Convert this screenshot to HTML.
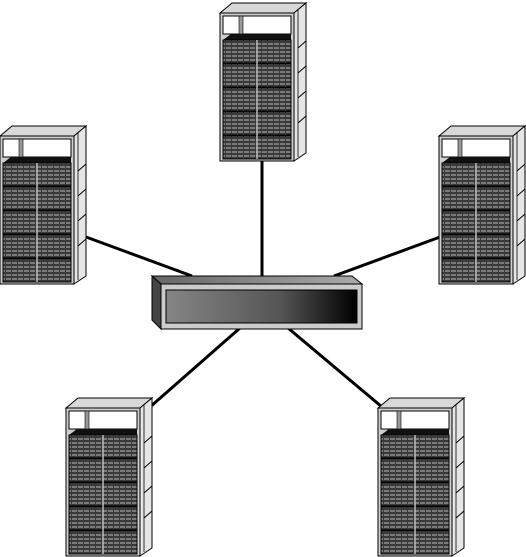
<!DOCTYPE html>
<html><head><style>html,body{margin:0;padding:0;background:#fff;width:526px;height:557px;overflow:hidden}</style></head>
<body>
<svg width="526" height="557" viewBox="0 0 526 557" xmlns="http://www.w3.org/2000/svg">
<defs>
<pattern id="drv" width="6" height="4" patternUnits="userSpaceOnUse">
<rect width="6" height="4" fill="#3a3a3a"/>
<rect x="0" y="0" width="5" height="2" fill="#7a7a7a"/>
</pattern>
<linearGradient id="sw" x1="0" x2="1" y1="0" y2="0">
<stop offset="0" stop-color="#858585"/><stop offset="0.6" stop-color="#555"/><stop offset="1" stop-color="#000"/>
</linearGradient>
<linearGradient id="swtop" x1="0" x2="1"><stop offset="0" stop-color="#666"/><stop offset="1" stop-color="#aaa"/></linearGradient>
<g id="srv">
<polygon points="0,10 12,0 86,0 74,10" fill="#d8d8d8" stroke="#000" stroke-width="1"/>
<polygon points="74,10 86,0 86,150 74,158" fill="#e6e6e6" stroke="#000" stroke-width="1"/>
<polyline points="78,7 78,154" fill="none" stroke="#000" stroke-width="0.8"/>
<g stroke="#000" stroke-width="1">
<line x1="78" y1="45" x2="86" y2="38"/><line x1="78" y1="70" x2="86" y2="63"/><line x1="78" y1="95" x2="86" y2="88"/><line x1="78" y1="120" x2="86" y2="113"/>
</g>
<rect x="0" y="10" width="74" height="148" fill="#cfcfcf" stroke="#000" stroke-width="1"/>
<rect x="3" y="13" width="68" height="18" fill="#fff" stroke="#000" stroke-width="1"/>
<rect x="19" y="13" width="4" height="18" fill="#999" stroke="#000" stroke-width="0.6"/>
<polygon points="3,37 11,31 71,31 71,37" fill="#111"/>
<g stroke="#000" stroke-width="1">
<rect x="3" y="37" width="68" height="23" fill="url(#drv)"/>
<rect x="3" y="61" width="68" height="23" fill="url(#drv)"/>
<rect x="3" y="85" width="68" height="23" fill="url(#drv)"/>
<rect x="3" y="109" width="68" height="23" fill="url(#drv)"/>
<rect x="3" y="133" width="68" height="23" fill="url(#drv)"/>
</g>
<line x1="37" y1="37" x2="37" y2="156" stroke="#bbb" stroke-width="1.5"/>
</g>
</defs>
<g stroke="#000" stroke-width="3">
<line x1="262" y1="158" x2="262" y2="276"/>
<line x1="86" y1="237" x2="192" y2="276"/>
<line x1="440" y1="237" x2="334" y2="276"/>
<line x1="240" y1="328" x2="150" y2="407"/>
<line x1="288" y1="328" x2="382" y2="407"/>
</g>
<use href="#srv" x="220" y="3"/>
<use href="#srv" x="0" y="126"/>
<use href="#srv" x="439" y="126"/>
<use href="#srv" x="66" y="398"/>
<use href="#srv" x="378" y="398"/>
<polygon points="152,276 352,276 362,284 161,284" fill="url(#swtop)" stroke="#000" stroke-width="1"/>
<polygon points="152,276 161,284 161,329 152,320" fill="#444" stroke="#000" stroke-width="1"/>
<rect x="161" y="284" width="201" height="45" fill="#ccc" stroke="#000" stroke-width="1"/>
<rect x="166" y="290" width="191" height="33" fill="url(#sw)" stroke="#000" stroke-width="1"/>
</svg>
</body></html>
